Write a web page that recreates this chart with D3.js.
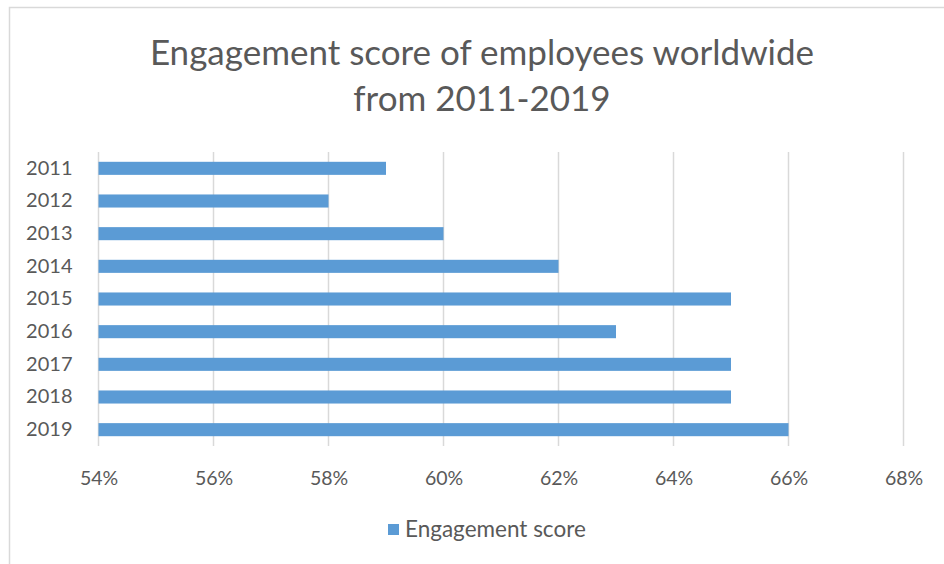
<!DOCTYPE html>
<html><head><meta charset="utf-8">
<script src="https://cdn.jsdelivr.net/npm/d3@7"></script>
<style>body{margin:0;background:#fff}svg{display:block}</style>
</head><body>
<script>
const years = ["2011","2012","2013","2014","2015","2016","2017","2018","2019"];
const scores = [0.59,0.58,0.60,0.62,0.65,0.63,0.65,0.65,0.66];
const xTicks = [0.54,0.56,0.58,0.60,0.62,0.64,0.66,0.68];
const titleLines = ["Engagement score of employees worldwide","from 2011-2019"];
const seriesName = "Engagement score";

const W=944,H=564;
const font="Lato, 'Open Sans', sans-serif";
const svg=d3.select("body").append("svg").attr("width",W).attr("height",H);
svg.append("rect").attr("x",9.5).attr("y",7.5).attr("width",W).attr("height",H).attr("fill","#fff").attr("stroke","#d9d9d9").attr("stroke-width",1.5);

const x=d3.scaleLinear().domain([0.54,0.68]).range([98.5,903.5]);
const y=d3.scaleBand().domain(years).range([152,446]).paddingInner(0.6).paddingOuter(0.3);

svg.append("g").selectAll("line").data(xTicks).join("line")
 .attr("x1",d=>x(d)).attr("x2",d=>x(d)).attr("y1",152).attr("y2",446)
 .attr("stroke","#d9d9d9").attr("stroke-width",1.5);

svg.append("g").selectAll("rect").data(years).join("rect")
 .attr("x",x(0.54)).attr("y",d=>y(d)).attr("height",y.bandwidth())
 .attr("width",(d,i)=>x(scores[i])-x(0.54)).attr("fill","#5b9bd5");

const xa=svg.append("g").attr("transform","translate(0,446)").call(d3.axisBottom(x).tickValues(xTicks).tickFormat(d3.format(".0%")).tickSize(0).tickPadding(25));
xa.select(".domain").remove();
xa.selectAll("text").attr("font-family",font).attr("font-size",19.5).attr("fill","#595959");

const ya=svg.append("g").attr("transform","translate(98.5,0)").call(d3.axisLeft(y).tickSize(0).tickPadding(26));
ya.select(".domain").remove();
ya.selectAll("text").attr("font-family",font).attr("font-size",20).attr("fill","#595959");

svg.append("g").selectAll("text").data(titleLines).join("text")
 .attr("x",482).attr("y",(d,i)=>65+i*46).attr("text-anchor","middle")
 .attr("font-family",font).attr("font-size",35).attr("fill","#595959").text(d=>d);

const lg=svg.append("g");
lg.append("rect").attr("x",388).attr("y",524).attr("width",11).attr("height",11).attr("fill","#5b9bd5");
lg.append("text").attr("x",405).attr("y",537).attr("font-family",font).attr("font-size",22.5).attr("fill","#595959").text(seriesName);
</script>
</body></html>
